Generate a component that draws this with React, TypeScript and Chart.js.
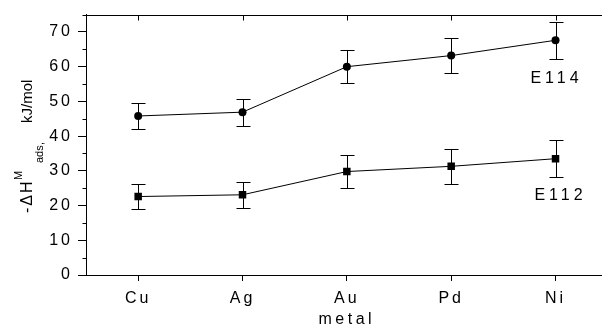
import React, { useEffect, useRef } from 'react';
import { Chart, registerables, CategoryScale, LinearScale } from 'chart.js';

const FONT = "'Liberation Sans', Arial, Helvetica, sans-serif";

const metals = ['Cu', 'Ag', 'Au', 'Pd', 'Ni'];
const e114Values = [45.8, 46.9, 60.0, 63.2, 67.6];
const e114Errors = [3.7, 3.9, 4.8, 5.0, 5.4];
const e112Values = [22.6, 23.1, 29.8, 31.3, 33.5];
const e112Errors = [3.6, 3.7, 4.7, 5.0, 5.3];
const yTicks = [0, 10, 20, 30, 40, 50, 60, 70];
const yMinorTicks = [5, 15, 25, 35, 45, 55, 65, 75];
const seriesNames = ['E114', 'E112'];

class SpacedCategoryScale extends CategoryScale {
  static id = 'spacedCategory';
  static defaults = CategoryScale.defaults;
  drawLabels(chartArea: any) {
    const ctx: any = this.ctx;
    const prev = ctx.letterSpacing;
    ctx.letterSpacing = '3px';
    super.drawLabels(chartArea);
    ctx.letterSpacing = prev;
  }
  drawTitle() {
    const ctx: any = this.ctx;
    const prev = ctx.letterSpacing;
    ctx.letterSpacing = '3.5px';
    super.drawTitle();
    ctx.letterSpacing = prev;
  }
}

class SpacedLinearScale extends LinearScale {
  static id = 'spacedLinear';
  static defaults = LinearScale.defaults;
  drawLabels(chartArea: any) {
    const ctx: any = this.ctx;
    const prev = ctx.letterSpacing;
    ctx.letterSpacing = '3px';
    super.drawLabels(chartArea);
    ctx.letterSpacing = prev;
  }
}

Chart.register(...registerables, SpacedCategoryScale, SpacedLinearScale);

const decorPlugin = {
  id: 'decor',
  afterDatasetsDraw(chart: any) {
    const { ctx, scales } = chart;
    const x = scales.x;
    const y = scales.y;
    ctx.save();
    ctx.strokeStyle = '#000';
    ctx.lineWidth = 1;
    const sets: [number[], number[]][] = [
      [e114Values, e114Errors],
      [e112Values, e112Errors],
    ];
    sets.forEach(([vals, errs]) => {
      vals.forEach((v, i) => {
        const px = Math.round(x.getPixelForValue(i)) + 0.5;
        const yt = Math.round(y.getPixelForValue(v + errs[i])) + 0.5;
        const yb = Math.round(y.getPixelForValue(v - errs[i])) + 0.5;
        ctx.beginPath();
        ctx.moveTo(px, yt);
        ctx.lineTo(px, yb);
        ctx.moveTo(px - 7, yt);
        ctx.lineTo(px + 7, yt);
        ctx.moveTo(px - 7, yb);
        ctx.lineTo(px + 7, yb);
        ctx.stroke();
      });
    });
    ctx.restore();
  },
  afterDraw(chart: any) {
    const { ctx, chartArea, scales } = chart;
    const x = scales.x;
    const y = scales.y;
    ctx.save();
    ctx.strokeStyle = '#000';
    ctx.fillStyle = '#000';
    ctx.lineWidth = 1;
    // top frame line
    const top = Math.round(chartArea.top) + 0.5;
    const left = Math.round(chartArea.left) + 0.5;
    ctx.beginPath();
    ctx.moveTo(left, top);
    ctx.lineTo(chartArea.right, top);
    ctx.stroke();
    // inward ticks on top frame
    metals.forEach((_, i) => {
      const px = Math.round(x.getPixelForValue(i)) + 0.5;
      ctx.beginPath();
      ctx.moveTo(px, top);
      ctx.lineTo(px, top + 5);
      ctx.stroke();
    });
    // minor y ticks
    yMinorTicks.forEach((v) => {
      const py = Math.round(y.getPixelForValue(v)) + 0.5;
      ctx.beginPath();
      ctx.moveTo(left - 4, py);
      ctx.lineTo(left, py);
      ctx.stroke();
    });
    // series labels
    ctx.font = `16px ${FONT}`;
    (ctx as any).letterSpacing = '4px';
    ctx.textAlign = 'center';
    ctx.textBaseline = 'middle';
    ctx.fillText(seriesNames[0], x.getPixelForValue(4) + 1, y.getPixelForValue(56.6));
    ctx.fillText(seriesNames[1], x.getPixelForValue(4) + 5, y.getPixelForValue(23.0));
    // y axis title, reading bottom to top
    ctx.translate(31.5, 213);
    ctx.rotate(-Math.PI / 2);
    ctx.textAlign = 'left';
    ctx.textBaseline = 'alphabetic';
    ctx.font = `16px ${FONT}`;
    (ctx as any).letterSpacing = '2px';
    ctx.fillText('-ΔH', 0, 0);
    (ctx as any).letterSpacing = '0px';
    ctx.font = `11px ${FONT}`;
    ctx.fillText('M', 33, -9.5);
    ctx.fillText('ads', 50, 11.5);
    ctx.fillText(',', 68, 11.5);
    ctx.font = `15px ${FONT}`;
    ctx.fillText('kJ/mol', 90, 0);
    ctx.restore();
  },
};

export default function App() {
  const canvasRef = useRef<HTMLCanvasElement | null>(null);

  useEffect(() => {
    const canvas = canvasRef.current;
    if (!canvas) return;
    const chart = new Chart(canvas, {
      type: 'line',
      data: {
        labels: metals,
        datasets: [
          {
            label: seriesNames[0],
            data: e114Values,
            borderColor: '#000',
            backgroundColor: '#000',
            borderWidth: 1,
            pointStyle: 'circle',
            pointRadius: 4,
            pointBorderWidth: 0,
            tension: 0,
          },
          {
            label: seriesNames[1],
            data: e112Values,
            borderColor: '#000',
            backgroundColor: '#000',
            borderWidth: 1,
            pointStyle: 'rect',
            pointRadius: 5.3,
            pointBorderWidth: 0,
            tension: 0,
          },
        ],
      },
      options: {
        responsive: false,
        animation: false,
        devicePixelRatio: 1,
        layout: { padding: { top: 12, left: 0, right: 0, bottom: 0 } },
        plugins: {
          legend: { display: false },
          tooltip: { enabled: false },
        },
        scales: {
          x: {
            type: 'spacedCategory' as any,
            offset: true,
            grid: {
              drawOnChartArea: false,
              tickLength: 6,
              color: '#000',
              lineWidth: 1,
            },
            border: { display: true, color: '#000', width: 1 },
            ticks: {
              color: '#000',
              font: { family: FONT, size: 16 },
              padding: 8,
              maxRotation: 0,
            },
            title: {
              display: true,
              text: 'metal',
              color: '#000',
              font: { family: FONT, size: 16 },
              padding: { top: 0, bottom: 0 },
            },
            afterFit: (s: any) => {
              s.height = 54;
            },
          } as any,
          y: {
            type: 'spacedLinear' as any,
            min: 0,
            max: 75,
            grid: {
              drawOnChartArea: false,
              tickLength: 8,
              color: '#000',
              lineWidth: 1,
            },
            border: { display: true, color: '#000', width: 1 },
            ticks: {
              color: '#000',
              font: { family: FONT, size: 16 },
              padding: 5,
            },
            afterBuildTicks: (s: any) => {
              s.ticks = yTicks.map((v) => ({ value: v }));
            },
            afterFit: (s: any) => {
              s.width = 86;
            },
          } as any,
        },
      },
      plugins: [decorPlugin],
    });
    return () => chart.destroy();
  }, []);

  return (
    <div
      style={{
        position: 'fixed',
        left: 0,
        top: 0,
        width: 602,
        height: 325,
        overflow: 'hidden',
        background: '#fff',
      }}
    >
      <canvas ref={canvasRef} width={613} height={329} style={{ display: 'block' }} />
    </div>
  );
}
